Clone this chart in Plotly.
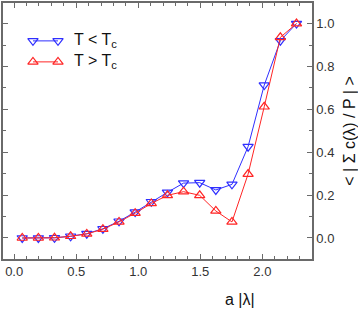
import plotly.graph_objects as go

# data
a_lambda = [0.065, 0.195, 0.325, 0.455, 0.585, 0.715, 0.845, 0.975, 1.105,
            1.235, 1.365, 1.495, 1.625, 1.755, 1.885, 2.015, 2.145, 2.275]
below_tc = [0.000, 0.000, 0.001, 0.008, 0.020, 0.043, 0.078, 0.121, 0.169,
            0.213, 0.256, 0.258, 0.224, 0.250, 0.426, 0.713, 0.920, 1.000]
above_tc = [0.000, 0.000, 0.001, 0.008, 0.019, 0.041, 0.075, 0.116, 0.161,
            0.199, 0.216, 0.199, 0.126, 0.075, 0.298, 0.612, 0.936, 1.000]
legend_names = ["T < T<sub>c</sub>", "T > T<sub>c</sub>"]
x_title = "a |λ|"
y_title = "< | Σ c(λ) / P | >"

BLUE = "#2f2fff"
RED = "#ff2525"
AX = "#6a6a6a"
FONT = "Liberation Sans, Arial, sans-serif"

fig = go.Figure()
fig.add_trace(go.Scatter(x=a_lambda, y=below_tc, mode="lines+markers",
                         line=dict(color=BLUE, width=1),
                         marker=dict(symbol="triangle-down-open", size=9,
                                     color=BLUE, line=dict(width=1.2)),
                         showlegend=False))
fig.add_trace(go.Scatter(x=a_lambda, y=above_tc, mode="lines+markers",
                         line=dict(color=RED, width=1),
                         marker=dict(symbol="triangle-up-open", size=9,
                                     color=RED, line=dict(width=1.2)),
                         showlegend=False))

# custom legend (line with markers at both ends) on an overlay axis
leg_x = [0.097, 0.178]
leg_y = [0.852, 0.770]
for name, col, sym, yy in [(legend_names[0], BLUE, "triangle-down-open", leg_y[0]),
                           (legend_names[1], RED, "triangle-up-open", leg_y[1])]:
    fig.add_trace(go.Scatter(x=leg_x, y=[yy, yy], mode="lines+markers",
                             xaxis="x2", yaxis="y2",
                             line=dict(color=col, width=1),
                             marker=dict(symbol=sym, size=9, color=col,
                                         line=dict(width=1.2)),
                             showlegend=False, hoverinfo="skip"))
    fig.add_annotation(x=0.222, y=yy, xref="paper", yref="paper",
                       text=name, showarrow=False, xanchor="left",
                       yanchor="middle",
                       font=dict(family=FONT, size=16, color="#111"))

# x-axis title (placed right of centre, as in the original)
fig.add_annotation(x=0.767, y=-0.16, xref="paper", yref="paper",
                   text=x_title, showarrow=False, xanchor="center",
                   yanchor="middle",
                   font=dict(family=FONT, size=16, color="#111"))

axis_common = dict(showline=True, linecolor=AX, linewidth=1.5, mirror="allticks",
                   ticks="inside", ticklen=5, tickcolor=AX, tickwidth=1,
                   showgrid=False, zeroline=False, automargin=False,
                   tickfont=dict(family=FONT, size=13, color="#333"))

fig.update_layout(
    width=358, height=311,
    margin=dict(l=3, r=46, t=3, b=52),
    paper_bgcolor="white", plot_bgcolor="white",
    font=dict(family=FONT),
    xaxis=dict(range=[-0.09, 2.40], dtick=0.5, tickformat=".1f",
               minor=dict(dtick=0.1, ticks="inside", ticklen=3, tickcolor=AX),
               **axis_common),
    yaxis=dict(range=[-0.098, 1.096], dtick=0.2, tickformat=".1f", side="right",
               minor=dict(dtick=0.1, ticks="inside", ticklen=3, tickcolor=AX),
               title=dict(text=y_title,
                          font=dict(family=FONT, size=16, color="#111"),
                          standoff=10),
               **axis_common),
    xaxis2=dict(range=[0, 1], overlaying="x", visible=False),
    yaxis2=dict(range=[0, 1], overlaying="y", visible=False),
)

fig.write_html("out.html", config={"displayModeBar": False},
               post_script="document.body.style.margin='0';document.body.style.overflow='hidden';")
